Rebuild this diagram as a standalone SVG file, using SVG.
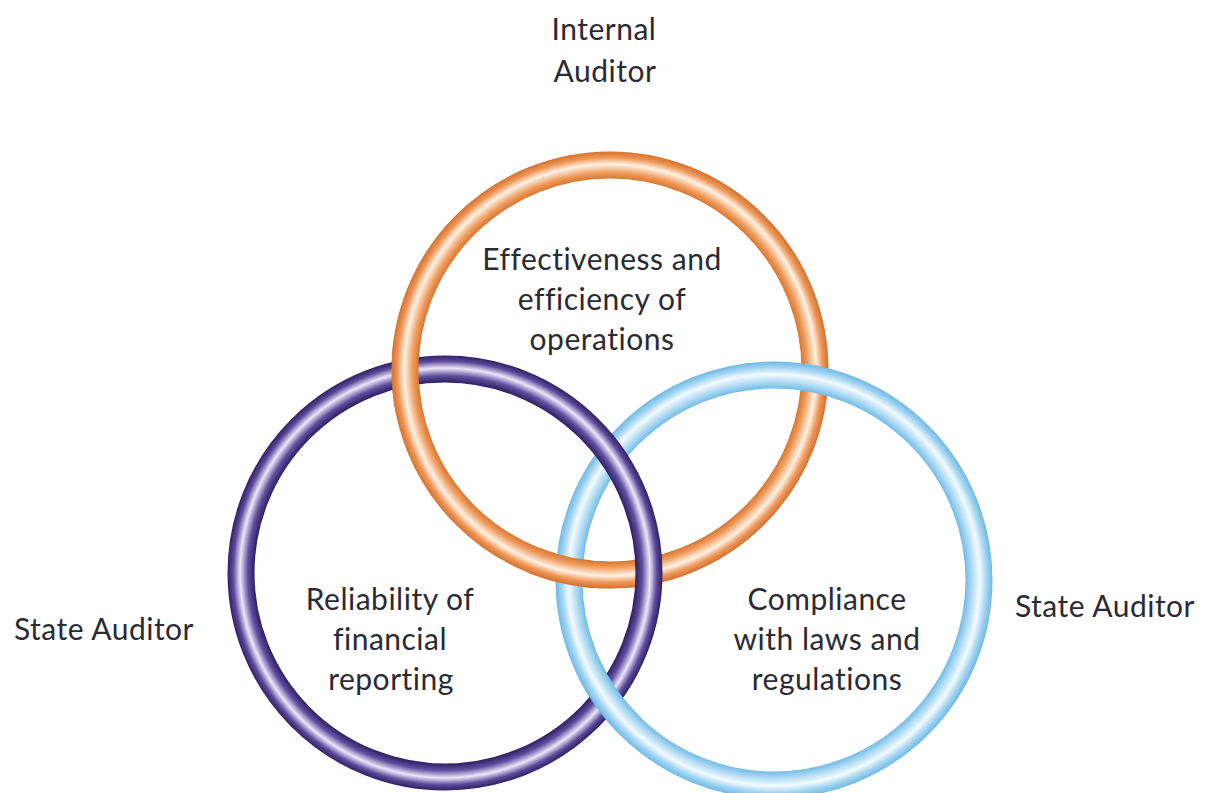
<svg xmlns="http://www.w3.org/2000/svg" width="1206" height="793" viewBox="0 0 1206 793">
<style>
.lbl{font-family:Lato,"Open Sans","Liberation Sans",sans-serif;font-size:30px;letter-spacing:0.5px;fill:#2a2a35;text-anchor:middle}
.ring{fill:none;stroke-width:27}
</style>
<defs>
<radialGradient id="gO" gradientUnits="userSpaceOnUse" cx="610" cy="370" r="219">
<stop offset="0.872" stop-color="#d8732c"/>
<stop offset="0.9" stop-color="#ee9a5a"/>
<stop offset="0.94" stop-color="#fff2e4"/>
<stop offset="0.97" stop-color="#ee985a"/>
<stop offset="1" stop-color="#d36e2a"/>
</radialGradient>
<radialGradient id="gP" gradientUnits="userSpaceOnUse" cx="445" cy="573" r="218">
<stop offset="0.872" stop-color="#2a1c60"/>
<stop offset="0.905" stop-color="#5e4e9e"/>
<stop offset="0.94" stop-color="#ece6fa"/>
<stop offset="0.972" stop-color="#5a4a9a"/>
<stop offset="1" stop-color="#2a1c60"/>
</radialGradient>
<radialGradient id="gB" gradientUnits="userSpaceOnUse" cx="774" cy="580" r="219">
<stop offset="0.872" stop-color="#6fb9e6"/>
<stop offset="0.9" stop-color="#a6d6f2"/>
<stop offset="0.94" stop-color="#f3fbff"/>
<stop offset="0.97" stop-color="#a4d5f2"/>
<stop offset="1" stop-color="#6cb6e4"/>
</radialGradient>
<clipPath id="c1"><circle cx="405" cy="373" r="40"/></clipPath>
<clipPath id="c2"><circle cx="569" cy="571" r="40"/></clipPath>
<clipPath id="c3"><circle cx="607" cy="698" r="40"/></clipPath>
</defs>
<rect width="1206" height="793" fill="#ffffff"/>
<g id="ring-orange"><circle class="ring" cx="610" cy="370" r="205" stroke="url(#gO)"/></g>
<g id="ring-blue"><circle class="ring" cx="774" cy="580" r="205" stroke="url(#gB)"/></g>
<g id="ring-purple"><circle class="ring" cx="445" cy="573" r="204" stroke="url(#gP)"/></g>
<g id="overlaps">
<circle class="ring" cx="610" cy="370" r="205" stroke="url(#gO)" clip-path="url(#c1)"/>
<circle class="ring" cx="610" cy="370" r="205" stroke="url(#gO)" clip-path="url(#c2)"/>
<circle class="ring" cx="774" cy="580" r="205" stroke="url(#gB)" clip-path="url(#c3)"/>
</g>
<g id="internal-auditor">
<text class="lbl" x="604" y="40">Internal</text>
<text class="lbl" x="605" y="82">Auditor</text>
</g>
<g id="operations">
<text class="lbl" x="602" y="270">Effectiveness and</text>
<text class="lbl" x="602" y="310">efficiency of</text>
<text class="lbl" x="602" y="350">operations</text>
</g>
<g id="financial">
<text class="lbl" x="390" y="610">Reliability of</text>
<text class="lbl" x="390" y="650">financial</text>
<text class="lbl" x="391" y="690">reporting</text>
</g>
<g id="compliance">
<text class="lbl" x="827" y="610">Compliance</text>
<text class="lbl" x="827" y="650">with laws and</text>
<text class="lbl" x="827" y="690">regulations</text>
</g>
<g id="state-auditor-left"><text class="lbl" x="104" y="640">State Auditor</text></g>
<g id="state-auditor-right"><text class="lbl" x="1105" y="617">State Auditor</text></g>
<g id="connectors"/>
</svg>
